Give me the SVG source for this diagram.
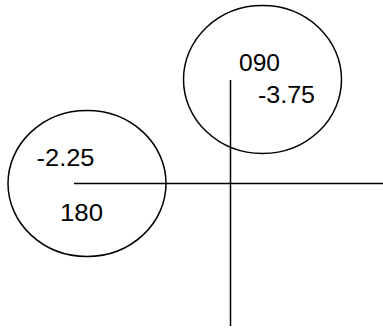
<svg xmlns="http://www.w3.org/2000/svg" width="383" height="329" viewBox="0 0 383 329">
<style>
.c{fill:none;stroke:#000;stroke-width:1.5}
.l{stroke:#000;stroke-width:1.5}
.t{font-family:"Liberation Sans",Arial,sans-serif;font-size:24px;fill:#000}
</style>
<rect width="383" height="329" fill="#fff"/>
<g id="node-left">
<ellipse class="c" cx="87" cy="183.5" rx="79" ry="73"/>
<text class="t" x="36.5" y="166" textLength="58" lengthAdjust="spacingAndGlyphs">-2.25</text>
<text class="t" x="60" y="221" textLength="43" lengthAdjust="spacingAndGlyphs">180</text>
</g>
<g id="node-right">
<ellipse class="c" cx="262.5" cy="79.5" rx="79" ry="74"/>
<text class="t" x="239" y="71" textLength="41" lengthAdjust="spacingAndGlyphs">090</text>
<text class="t" x="258" y="103" textLength="57" lengthAdjust="spacingAndGlyphs">-3.75</text>
</g>
<g id="connectors">
<line class="l" x1="74" y1="183.5" x2="383" y2="183.5"/>
<line class="l" x1="230.5" y1="80" x2="230.5" y2="326"/>
</g>
</svg>
